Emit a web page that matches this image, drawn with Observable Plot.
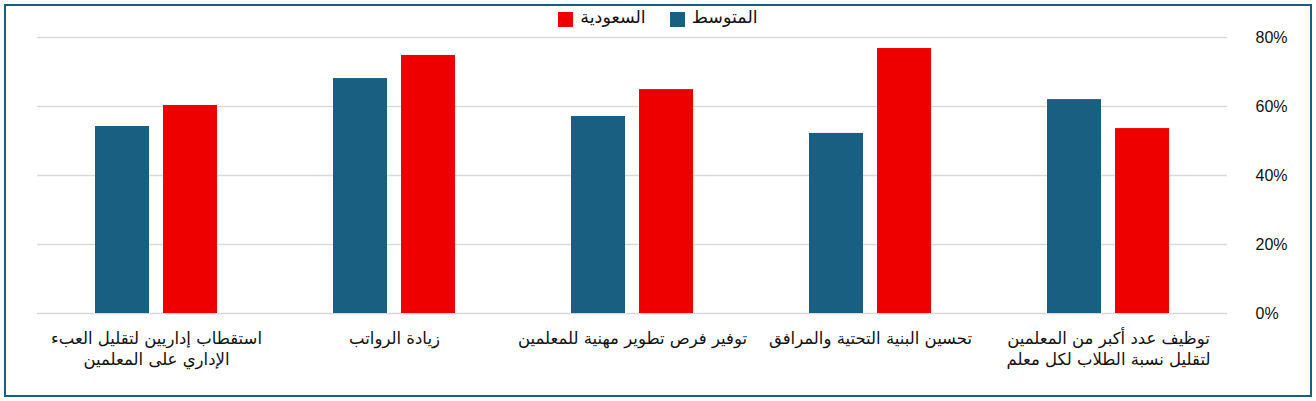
<!DOCTYPE html>
<html>
<head>
<meta charset="utf-8">
<script src="https://cdn.jsdelivr.net/npm/d3@7"></script>
<script src="https://cdn.jsdelivr.net/npm/@observablehq/plot@0.6"></script>
<style>
  html, body { margin: 0; padding: 0; background: #fff; }
  #wrap { position: relative; width: 1316px; height: 401px; overflow: hidden; }
  #frame { position: absolute; left: 4px; top: 4px; width: 1308px; height: 393px; box-sizing: border-box; border: 2px solid #185E82; pointer-events: none; }
  #legend { position: absolute; top: 7px; left: 0; width: 1316px; display: flex; justify-content: center; align-items: center; font-family: "DejaVu Sans", sans-serif; font-size: 17.5px; color: #111; direction: ltr; }
  .item { display: flex; align-items: center; margin: 0 12px; }
  .sw { width: 15px; height: 15px; margin-right: 7px; margin-top: 5px; }
  #chart { position: absolute; left: 0; top: 0; }
</style>
</head>
<body>
<div id="wrap">
  <div id="chart"></div>
  <div id="legend"></div>
  <div id="frame"></div>
</div>
<script>
// Categories (right to left order in the picture: first is rightmost)
const categories = [
  "توظيف عدد أكبر من المعلمين لتقليل نسبة الطلاب لكل معلم",
  "تحسين البنية التحتية والمرافق",
  "توفير فرص تطوير مهنية للمعلمين",
  "زيادة الرواتب",
  "استقطاب إداريين لتقليل العبء الإداري على المعلمين"
];
const tickLabels = [
  "توظيف عدد أكبر من المعلمين\nلتقليل نسبة الطلاب لكل معلم",
  "تحسين البنية التحتية والمرافق",
  "توفير فرص تطوير مهنية للمعلمين",
  "زيادة الرواتب",
  "استقطاب إداريين لتقليل العبء\nالإداري على المعلمين"
];
const seriesNames = ["المتوسط", "السعودية"];
const averageValues = [0.62, 0.522, 0.571, 0.681, 0.542];
const saudiValues = [0.536, 0.768, 0.649, 0.748, 0.603];
const yTicks = [0, 0.2, 0.4, 0.6, 0.8];
const colors = ["#185F82", "#EE0000"];

const data = [];
categories.forEach((c, i) => {
  data.push({category: c, series: seriesNames[0], value: averageValues[i]});
  data.push({category: c, series: seriesNames[1], value: saudiValues[i]});
});
const labelOf = new Map(categories.map((c, i) => [c, tickLabels[i]]));

const chart = Plot.plot({
  width: 1316,
  height: 401,
  marginTop: 37,
  marginBottom: 88,
  marginLeft: 35,
  marginRight: 88,
  style: {fontFamily: "DejaVu Sans, sans-serif", background: "transparent", color: "#111"},
  fx: {domain: categories.slice().reverse(), padding: 0},
  x: {domain: seriesNames, paddingInner: 0.2, paddingOuter: 0.84},
  y: {domain: [0, 0.8]},
  color: {domain: seriesNames, range: colors},
  marks: [
    Plot.gridY(yTicks, {stroke: "#D9D9D9", strokeOpacity: 1, strokeWidth: 1.4}),
    Plot.barY(data, {fx: "category", x: "series", y: "value", fill: "series"}),
    Plot.axisY(yTicks, {anchor: "right", tickSize: 0, tickPadding: 28, tickFormat: d => Math.round(d * 100) + "%", fontSize: 16, fontFamily: "Liberation Sans, sans-serif", label: null}),
    Plot.axisFx({anchor: "bottom", tickSize: 0, tickPadding: 15, tickFormat: d => labelOf.get(d), fontSize: 16.5, lineHeight: 1.28, label: null}),
    Plot.axisX({ticks: [], label: null})
  ]
});
document.getElementById("chart").appendChild(chart);

const legend = document.getElementById("legend");
[1, 0].forEach(i => {
  const item = document.createElement("div");
  item.className = "item";
  const sw = document.createElement("div");
  sw.className = "sw";
  sw.style.background = colors[i];
  const t = document.createElement("span");
  t.textContent = seriesNames[i];
  item.appendChild(sw);
  item.appendChild(t);
  legend.appendChild(item);
});
</script>
</body>
</html>
